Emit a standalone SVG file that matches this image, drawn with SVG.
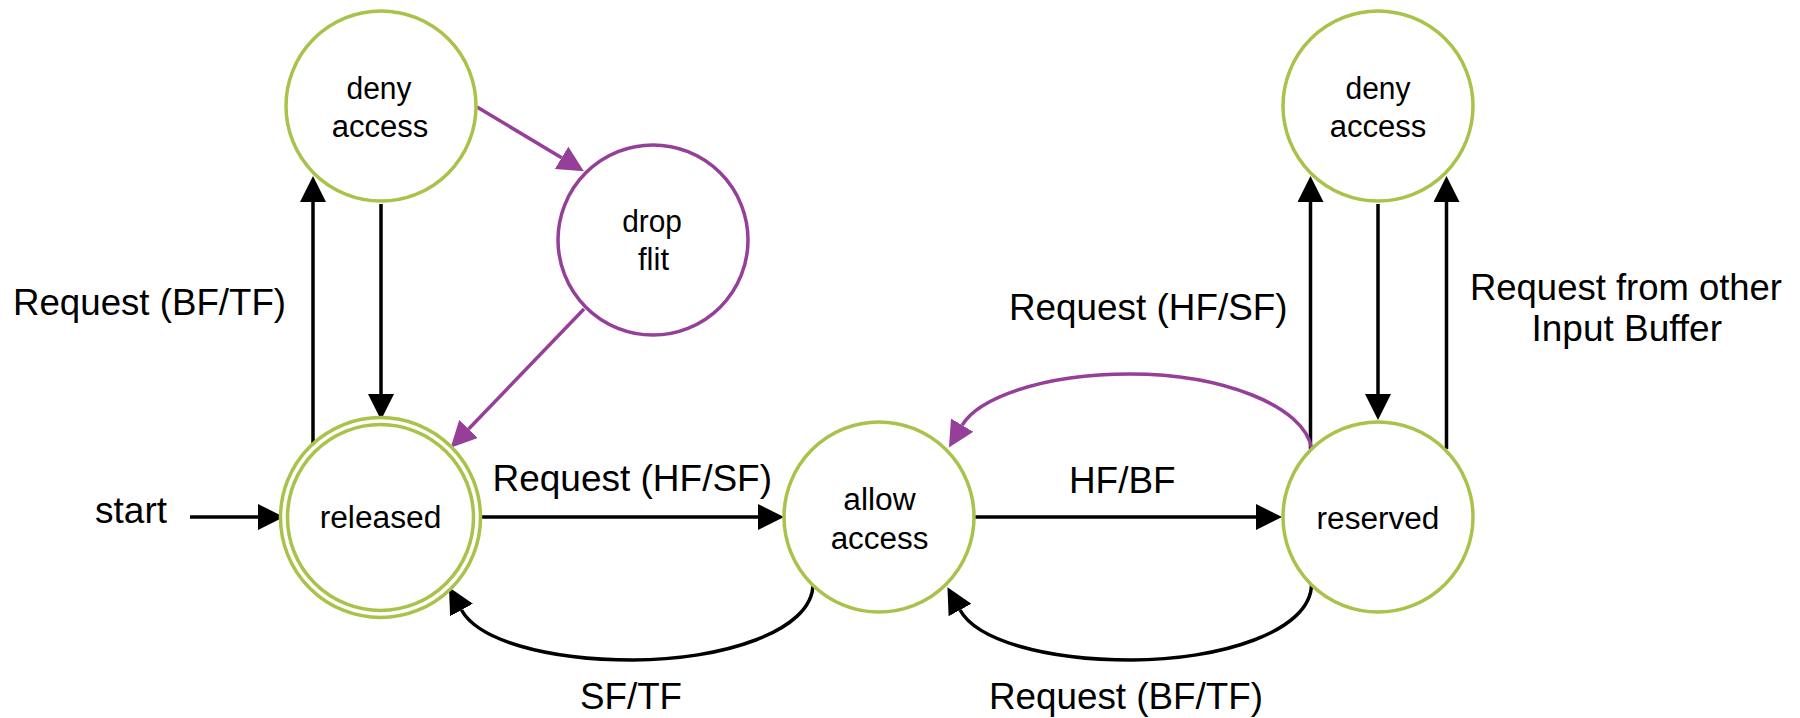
<svg xmlns="http://www.w3.org/2000/svg" width="1800" height="718" viewBox="0 0 1800 718">
  <style>
    .state { fill: #ffffff; stroke: #a8c24a; stroke-width: 3.5; }
    .drop { fill: #ffffff; stroke: #953f98; stroke-width: 3.5; }
    .ntext { font-family: "Liberation Sans", Arial, sans-serif; font-size: 31px; fill: #000000; text-anchor: middle; }
    .ltext { font-family: "Liberation Sans", Arial, sans-serif; font-size: 36px; fill: #000000; }
    .edge { fill: none; stroke: #000000; stroke-width: 3.5; }
    .pedge { fill: none; stroke: #953f98; stroke-width: 3.5; }
  </style>
  <defs>
    <marker id="arrow" markerUnits="userSpaceOnUse" markerWidth="26" markerHeight="26" viewBox="0 0 26 26" refX="0" refY="13" orient="auto">
      <path d="M0,0 L26,13 L0,26 Z" fill="#000000"/>
    </marker>
    <marker id="parrow" markerUnits="userSpaceOnUse" markerWidth="26" markerHeight="26" viewBox="0 0 26 26" refX="0" refY="13" orient="auto">
      <path d="M0,0 L26,13 L0,26 Z" fill="#953f98"/>
    </marker>
  </defs>

  <!-- transitions -->
  <g id="connectors">
    <path class="edge" d="M190,517 H258" marker-end="url(#arrow)"/>
    <path class="edge" d="M313,449 V202" marker-end="url(#arrow)"/>
    <path class="edge" d="M381,204 V394" marker-end="url(#arrow)"/>
    <path class="edge" d="M478,517 H758" marker-end="url(#arrow)"/>
    <path class="edge" d="M975,517 H1256" marker-end="url(#arrow)"/>
    <path class="edge" d="M1310.5,449 V202" marker-end="url(#arrow)"/>
    <path class="edge" d="M1378,204 V394" marker-end="url(#arrow)"/>
    <path class="edge" d="M1446.5,449 V202" marker-end="url(#arrow)"/>
    <path class="edge" d="M813,584 C813,632 720,660 633,660 C546,660 478,640 461.5,610" marker-end="url(#arrow)"/>
    <path class="edge" d="M1311.5,584 C1311.5,632 1218.5,660 1131.5,660 C1044.5,660 976.5,640 960,610" marker-end="url(#arrow)"/>
    <path class="pedge" d="M477,107 L561.6,157.8" marker-end="url(#parrow)"/>
    <path class="pedge" d="M584,309 L468.6,429" marker-end="url(#parrow)"/>
    <path class="pedge" d="M1311.7,449 C1305,405 1220,374 1130,374 C1040,374 977.5,399.4 962.2,425.2" marker-end="url(#parrow)"/>
  </g>

  <!-- transition labels -->
  <g id="labels">
    <text class="ltext" x="13" y="315" textLength="273" lengthAdjust="spacingAndGlyphs">Request (BF/TF)</text>
    <text class="ltext" x="95" y="523" textLength="72" lengthAdjust="spacingAndGlyphs">start</text>
    <text class="ltext" x="492.5" y="491" textLength="279.5" lengthAdjust="spacingAndGlyphs">Request (HF/SF)</text>
    <text class="ltext" x="580" y="709" textLength="102" lengthAdjust="spacingAndGlyphs">SF/TF</text>
    <text class="ltext" x="1069" y="493" textLength="106.5" lengthAdjust="spacingAndGlyphs">HF/BF</text>
    <text class="ltext" x="1009" y="320" textLength="278.5" lengthAdjust="spacingAndGlyphs">Request (HF/SF)</text>
    <text class="ltext" x="1470" y="300" textLength="312" lengthAdjust="spacingAndGlyphs">Request from other</text>
    <text class="ltext" x="1531.5" y="341" textLength="190.5" lengthAdjust="spacingAndGlyphs">Input Buffer</text>
    <text class="ltext" x="989" y="709" textLength="274" lengthAdjust="spacingAndGlyphs">Request (BF/TF)</text>
  </g>

  <!-- states -->
  <g id="deny-access-1">
    <circle class="state" cx="381" cy="106" r="95"/>
    <text class="ntext" x="379" y="99" textLength="65" lengthAdjust="spacingAndGlyphs">deny</text>
    <text class="ntext" x="380" y="137" textLength="96.7" lengthAdjust="spacingAndGlyphs">access</text>
  </g>
  <g id="drop-flit">
    <circle class="drop" cx="653" cy="240" r="95"/>
    <text class="ntext" x="652" y="232" textLength="59.7" lengthAdjust="spacingAndGlyphs">drop</text>
    <text class="ntext" x="653.5" y="270" textLength="31" lengthAdjust="spacingAndGlyphs">flit</text>
  </g>
  <g id="released">
    <circle class="state" cx="380.5" cy="517.5" r="100"/>
    <circle class="state" cx="380.5" cy="517.5" r="93"/>
    <text class="ntext" x="380.5" y="528" textLength="121.7" lengthAdjust="spacingAndGlyphs">released</text>
  </g>
  <g id="allow-access">
    <circle class="state" cx="879" cy="517" r="95"/>
    <text class="ntext" x="879.5" y="510" textLength="72.3" lengthAdjust="spacingAndGlyphs">allow</text>
    <text class="ntext" x="879.5" y="549" textLength="97.7" lengthAdjust="spacingAndGlyphs">access</text>
  </g>
  <g id="reserved">
    <circle class="state" cx="1378" cy="517" r="95"/>
    <text class="ntext" x="1378" y="529" textLength="122.8" lengthAdjust="spacingAndGlyphs">reserved</text>
  </g>
  <g id="deny-access-2">
    <circle class="state" cx="1378" cy="106" r="95"/>
    <text class="ntext" x="1378" y="99" textLength="65" lengthAdjust="spacingAndGlyphs">deny</text>
    <text class="ntext" x="1378" y="137" textLength="96.7" lengthAdjust="spacingAndGlyphs">access</text>
  </g>
</svg>
